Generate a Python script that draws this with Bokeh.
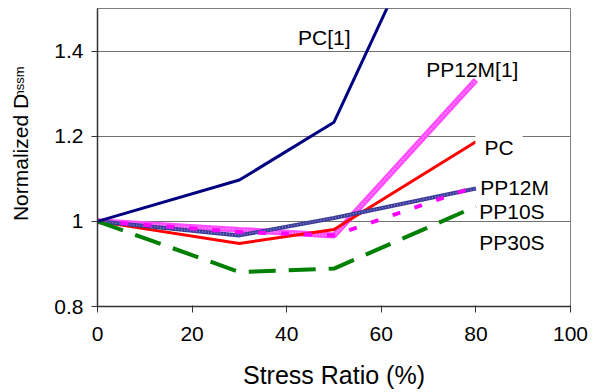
import math
from bokeh.plotting import figure
from bokeh.models import Range1d, FixedTicker, CustomJSTickFormatter, Label, Title
from bokeh.embed import file_html
from bokeh.resources import INLINE

# ---- data ----
stress = [0, 30, 50, 80]
pc_ref = [1.0, 1.097, 1.233, 1.95]
pp12m_ref = [1.0, 0.980, 0.967, 1.332]
pc = [1.0, 0.948, 0.981, 1.187]
pp12m = [1.0, 0.967, 1.008, 1.077]
pp10s = [1.0, 0.975, 0.967, 1.082]
pp30s = [1.0, 0.881, 0.889, 1.035]
x_ticks = [0, 20, 40, 60, 80, 100]
y_ticks = [0.8, 1.0, 1.2, 1.4]
series_names = ["PC[1]", "PP12M[1]", "PC", "PP12M", "PP10S", "PP30S"]

FONT = "Liberation Sans"

p = figure(width=598, height=392, output_backend="svg", toolbar_location=None,
           x_range=Range1d(0, 100), y_range=Range1d(0.8, 1.5),
           min_border_left=97, min_border_right=28, min_border_top=8, min_border_bottom=86)
p.background_fill_color = "white"
p.border_fill_color = "white"
p.outline_line_color = "#808080"
p.outline_line_width = 1

p.xgrid.visible = False
p.ygrid.ticker = FixedTicker(ticks=y_ticks)
p.ygrid.grid_line_color = "#707070"
p.ygrid.grid_line_width = 1

p.xaxis.ticker = FixedTicker(ticks=x_ticks)
p.yaxis.ticker = FixedTicker(ticks=y_ticks)
p.yaxis.formatter = CustomJSTickFormatter(code="return (Math.round(tick*10)/10).toString();")
for ax in (p.xaxis[0], p.yaxis[0]):
    ax.axis_line_color = "#333333"
    ax.axis_line_width = 1.5
    ax.major_tick_line_color = "#333333"
    ax.major_tick_out = 6
    ax.major_tick_in = 1
    ax.minor_tick_line_color = None
    ax.major_label_text_font = FONT
    ax.major_label_text_font_size = "21px"
    ax.major_label_text_color = "black"
    ax.axis_label_text_font = FONT
    ax.axis_label_text_font_style = "normal"
    ax.axis_label_text_color = "black"
p.yaxis.major_label_standoff = 8
p.xaxis.major_label_standoff = 14
p.xaxis.axis_label = "Stress Ratio (%)"
p.xaxis.axis_label_text_font_size = "25px"
p.xaxis.axis_label_standoff = 17
p.yaxis.axis_label = "Normalized D"
p.yaxis.axis_label_text_font_size = "21px"
p.yaxis.axis_label_standoff = 19

# subscript of the y-axis title
p.add_layout(Title(text="nssm", text_font=FONT, text_font_size="13px", text_font_style="normal",
                   text_color="black", align="right", offset=58, standoff=-41), "left")

# ---- series ----
p.line(stress, pp12m_ref, line_color="#ff4cff", line_width=6)
p.line(stress, pp12m_ref, line_color="#ffa8ff", line_width=2, line_dash="1 2", line_alpha=0.8)
p.line(stress, pc, line_color="#ff0000", line_width=3, line_join="round")
p.line(stress, pp12m, line_color="#3b3b9a", line_width=4)
p.line(stress, pp12m, line_color="#9a9ad8", line_width=1.5, line_dash="1 2", line_alpha=0.8)
p.line(stress, pp10s, line_color="#ff00ff", line_width=4, line_dash="8 15")
p.line(stress, pp30s, line_color="#008000", line_width=4, line_dash="27 13")
p.line(stress, pc_ref, line_color="#000080", line_width=3, line_join="round")

# ---- series labels ----
label_pos = [(42.4, 1.433), (69.5, 1.357), (79.9, 1.174), (80.9, 1.080), (80.7, 1.023), (80.7, 0.951)]
for name, (lx, ly) in zip(series_names, label_pos):
    kw = {}
    if name == "PC":
        kw = dict(background_fill_color="white", padding=9)
    p.add_layout(Label(x=lx, y=ly, text=name, text_font=FONT, text_font_size="21px",
                       text_color="black", text_baseline="middle", text_align="left", **kw))

open("out.html", "w").write(file_html(p, INLINE))
